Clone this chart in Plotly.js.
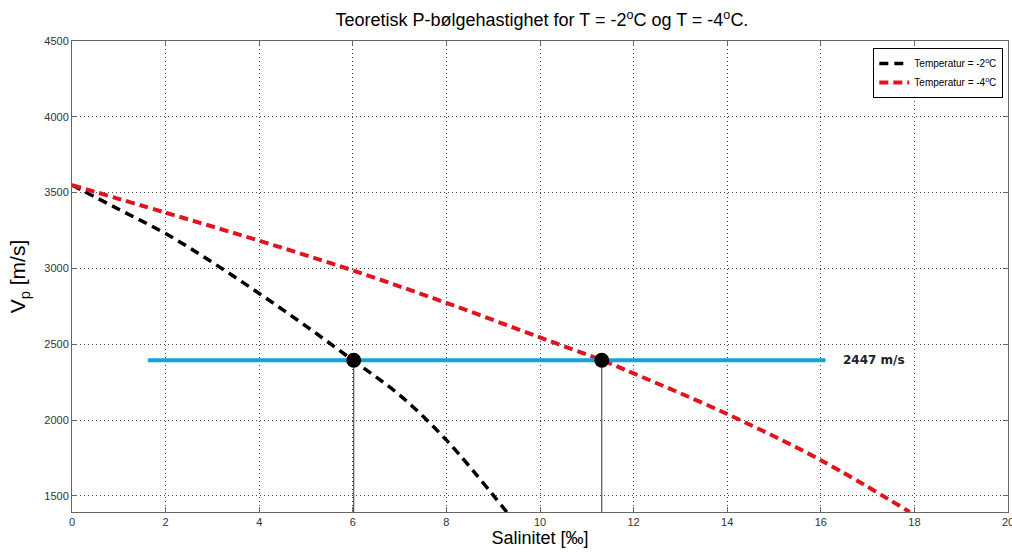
<!DOCTYPE html>
<html>
<head>
<meta charset="utf-8">
<script src="https://cdn.plot.ly/plotly-3.0.1.min.js"></script>
<style>html,body{margin:0;padding:0;background:#fff;}#chart{width:1012px;height:552px;}</style>
</head>
<body>
<div id="chart"></div>
<script>
// Salinity (‰) and P-wave velocity (m/s)
var salT2 = [0, 1, 2, 3, 4, 5, 6, 7, 8, 9.29];
var vpT2  = [3550, 3390, 3230, 3040, 2835, 2620, 2395, 2165, 1868, 1394];
var salT4 = [0, 2, 4, 6, 8, 10, 11.32, 12, 14, 16, 17.9];
var vpT4  = [3550, 3368, 3183, 2987, 2773, 2545, 2395, 2308, 2040, 1736, 1394];
var refLineX = [1.62, 16.1];
var refLineY = [2395, 2395];
var crossX = [6.02, 11.32];
var crossY = [2395, 2395];
var yBottom = 1394;
var refLabel = "2447 m/s";
var legendNames = ["Temperatur = -2<sup>o</sup>C", "Temperatur = -4<sup>o</sup>C"];
var xTicks = [0, 2, 4, 6, 8, 10, 12, 14, 16, 18, 20];
var yTicks = [1500, 2000, 2500, 3000, 3500, 4000, 4500];

var traces = [];
// vertical drop lines
crossX.forEach(function (cx, i) {
  traces.push({x: [cx, cx], y: [crossY[i], yBottom], mode: 'lines', showlegend: false,
    line: {color: '#333', width: 1}, hoverinfo: 'skip'});
});
traces.push({x: salT2, y: vpT2, mode: 'lines', name: legendNames[0],
  line: {color: '#000', width: 3.5, dash: '9px,6px', shape: 'spline'}});
traces.push({x: salT4, y: vpT4, mode: 'lines', name: legendNames[1],
  line: {color: '#e0141e', width: 4, dash: '9px,5px', shape: 'spline'}});
traces.push({x: refLineX, y: refLineY, mode: 'lines', showlegend: false,
  line: {color: '#16a0dc', width: 4}});
traces.push({x: crossX, y: crossY, mode: 'markers', showlegend: false,
  marker: {color: '#000', size: 15, symbol: 'circle'}});

var axisCommon = {
  showline: true, mirror: 'ticks', linecolor: '#666', linewidth: 1,
  ticks: 'inside', ticklen: 5, tickcolor: '#666',
  showgrid: true, gridcolor: '#444', griddash: '1px,3px', gridwidth: 1,
  zeroline: false, ticklabeloverflow: 'allow',
  tickfont: {family: 'Liberation Sans Narrow, Liberation Sans, Arial', size: 11, color: '#333'}
};

var layout = {
  width: 1012, height: 552,
  margin: {l: 72, r: 4, t: 41, b: 40},
  paper_bgcolor: '#fff', plot_bgcolor: '#fff',
  title: {text: 'Teoretisk P-bølgehastighet for T = -2<sup>o</sup>C og T = -4<sup>o</sup>C.',
    font: {family: 'Liberation Sans, Arial', size: 18, color: '#000'},
    x: 0.5355, xanchor: 'center', y: 0.975, yanchor: 'top'},
  xaxis: Object.assign({}, axisCommon, {
    range: [0, 20], tickvals: xTicks,
    title: {text: 'Salinitet [‰]', font: {family: 'Liberation Sans, Arial', size: 18, color: '#000'}, standoff: 4}
  }),
  yaxis: Object.assign({}, axisCommon, {
    range: [yBottom, 4500], tickvals: yTicks,
    title: {text: 'V<sub>p</sub> [m/s]', font: {family: 'Liberation Sans, Arial', size: 21, color: '#000'}, standoff: 12}
  }),
  legend: {x: 0.995, y: 0.985, xanchor: 'right', yanchor: 'top',
    bgcolor: '#fff', bordercolor: '#000', borderwidth: 1,
    font: {family: 'Liberation Sans, Arial', size: 10, color: '#000'},
    itemwidth: 30, tracegroupgap: 0},
  annotations: [{x: refLineX[1], y: refLineY[1], xref: 'x', yref: 'y', text: '<b>' + refLabel + '</b>',
    showarrow: false, xanchor: 'left', xshift: 16,
    font: {family: 'DejaVu Sans, Verdana', size: 12, color: '#222'}}],
  showlegend: true
};

Plotly.newPlot('chart', traces, layout, {displayModeBar: false, staticPlot: true});
</script>
</body>
</html>
